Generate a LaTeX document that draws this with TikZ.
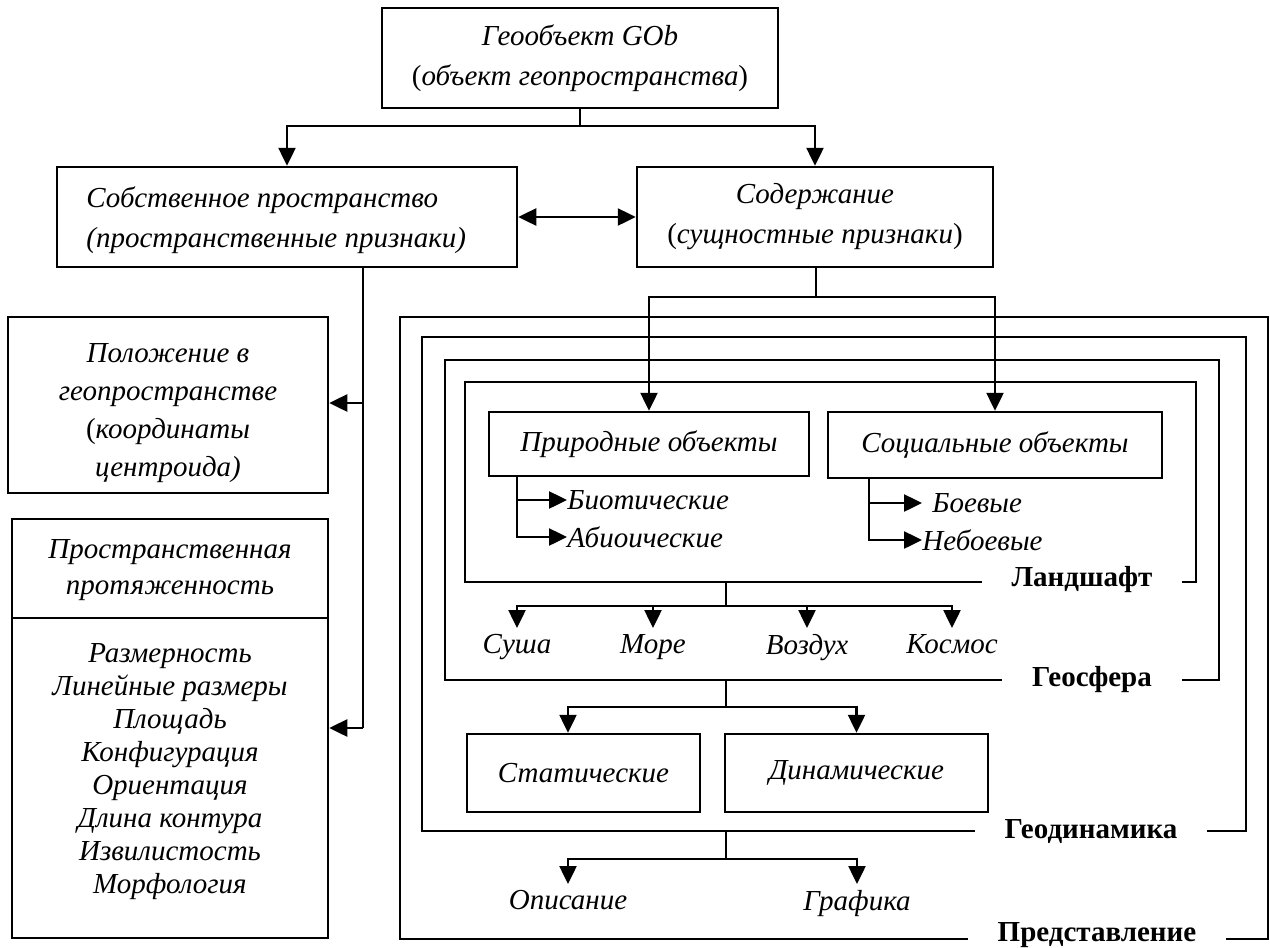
\documentclass[tikz,border=0pt]{standalone}
\usepackage{fontspec}
\setmainfont{Liberation Serif}
\usetikzlibrary{arrows.meta,fit}
\begin{document}
\begin{tikzpicture}[x=0.5pt,y=-0.5pt,
  every node/.style={font=\fontsize{14.5}{20}\selectfont\itshape},
  ln/.style={line width=1.25pt},
  arr/.style={ln,-{Triangle[length=9pt,width=8.5pt]}},
  darr/.style={ln,{Triangle[length=9pt,width=8.5pt]}-{Triangle[length=9pt,width=8.5pt]}},
  box/.style={draw,ln,inner sep=0pt,align=center},
  frame/.style={draw,ln,inner sep=0pt},
  flabel/.style={fill=white,inner xsep=15pt,inner ysep=1pt,anchor=base,font=\fontsize{14.5}{17}\selectfont\bfseries},
  lbl/.style={inner sep=0pt},
  sub/.style={inner xsep=0pt,inner ysep=3pt,anchor=north}
]
\useasboundingbox (0,0) rectangle (1270,948);

% top level
\node[box, minimum width=198pt, minimum height=50pt] (geo) at (580,58) {Геообъект GOb\\{\upshape(}объект геопространства{\upshape)}};
\node[box, minimum width=230pt, minimum height=50pt] (own) at (287,217) {};
\node[lbl, anchor=west, align=left] (ownt) at (86,220) {Собственное пространство\\(пространственные признаки)};
\node[box, minimum width=178pt, minimum height=50pt] (cont) at (815,217) {Содержание\\{\upshape(}сущностные признаки{\upshape)}};

% left column
\node[box, minimum width=160pt, minimum height=88pt] (pos) at (168,405) {};
\node[lbl, align=center, font=\fontsize{14.5}{19}\selectfont\itshape] (post) at (168,413) {Положение в\\геопространстве\\{\upshape(}координаты\\центроида)};
\node[box, minimum width=158pt, minimum height=209.5pt] (ext) at (170,728.5) {};
\coordinate (div) at (170,618);
\draw[ln] (ext.west |- div) -- (ext.east |- div);
\node[lbl, align=center, font=\fontsize{14.5}{18}\selectfont\itshape] (exth) at (170,570) {Пространственная\\протяженность};
\node[lbl, align=center, font=\fontsize{14.5}{16.5}\selectfont\itshape] (extl) at (170,772) {Размерность\\Линейные размеры\\Площадь\\Конфигурация\\Ориентация\\Длина контура\\Извилистость\\Морфология};

% nested frames
\node[frame, fit={(400,317)(1268,939)}] (pres) {};
\node[frame, fit={(422,337)(1246,831)}] (gdyn) {};
\node[frame, fit={(445,360)(1219,680)}] (gsph) {};
\node[frame, fit={(465,382)(1196,582)}] (land) {};
\node[flabel] (presl) at (1097,941) {Представление};
\node[flabel] (gdynl) at (1091,838) {Геодинамика};
\node[flabel] (gsphl) at (1092,686) {Геосфера};
\node[flabel] (landl) at (1082,586) {Ландшафт};

% landscape content
\node[box, minimum width=160pt, minimum height=32pt] (nat) at (649,444) {Природные объекты};
\node[box, minimum width=167pt, minimum height=33pt] (soc) at (995,445) {Социальные объекты};
\node[lbl, anchor=west] (bio) at (567,500) {Биотические};
\node[lbl, anchor=west] (abio) at (567,537) {Абиоические};
\node[lbl, anchor=west, inner xsep=5pt] (boe) at (922,503) {Боевые};
\node[lbl, anchor=west] (nboe) at (922,540) {Небоевые};

% geosphere content
\node[sub] (sush) at (517,628) {Суша};
\node[sub] (more) at (653,628) {Море};
\node[sub] (vozd) at (807,628) {Воздух};
\node[sub] (kosm) at (952,628) {Космос};

% geodynamics content
\node[box, minimum width=116.5pt, minimum height=39pt] (stat) at (583.5,773) {Статические};
\node[box, minimum width=131.5pt, minimum height=39pt] (dyn) at (856.5,773) {Динамические};

% presentation content
\node[sub] (opis) at (568,884) {Описание};
\node[sub] (graf) at (857,884) {Графика};

% connectors
\coordinate (j0) at (580,126);
\draw[ln] (geo.south) -- (j0);
\draw[arr] (j0) -| (own.north);
\draw[arr] (j0) -| (cont.north);
\draw[darr] (own.east) -- (cont.west);

\coordinate (s1) at (363,403);
\coordinate (s2) at (363,728);
\draw[ln] (own.south -| s1) -- (s2);
\draw[arr] (s1) -- (s1 -| pos.east);
\draw[arr] (s2) -- (s2 -| ext.east);

\coordinate (j3) at (816,297);
\draw[ln] (cont.south -| j3) -- (j3);
\draw[arr] (j3) -| (nat.north);
\draw[arr] (j3) -| (soc.north);

\coordinate (nb) at (517,0);
\draw[arr] (nat.south -| nb) |- (bio.west);
\draw[arr] (nat.south -| nb) |- (abio.west);
\coordinate (sb) at (869,0);
\draw[arr] (soc.south -| sb) |- (boe.west);
\draw[arr] (soc.south -| sb) |- (nboe.west);

\coordinate (j4) at (726,606);
\draw[ln] (land.south -| j4) -- (j4);
\draw[arr] (j4) -| (sush.north);
\draw[arr] (j4) -| (more.north);
\draw[arr] (j4) -| (vozd.north);
\draw[arr] (j4) -| (kosm.north);

\coordinate (j5) at (726,707);
\coordinate (a5) at (568,0);
\draw[ln] (gsph.south -| j5) -- (j5);
\draw[arr] (j5) -| (stat.north -| a5);
\draw[arr] (j5) -| (dyn.north);

\coordinate (j6) at (726,859);
\draw[ln] (gdyn.south -| j6) -- (j6);
\draw[arr] (j6) -| (opis.north);
\draw[arr] (j6) -| (graf.north);
\end{tikzpicture}
\end{document}
